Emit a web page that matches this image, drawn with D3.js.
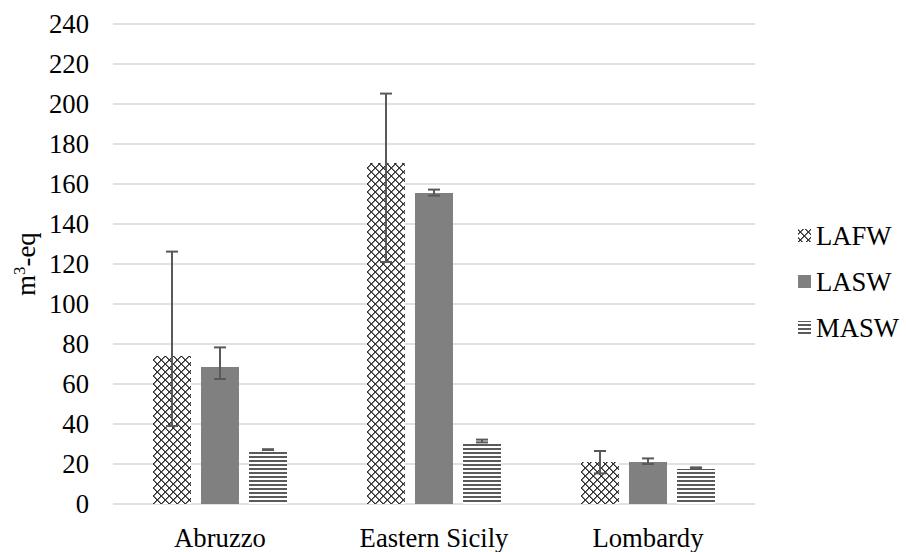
<!DOCTYPE html>
<html><head><meta charset="utf-8">
<script src="https://cdn.jsdelivr.net/npm/d3@7"></script>
</head><body style="margin:0"><svg id="c" width="906" height="552" style="display:block;background:#fff"></svg>
<script>
const categories = ["Abruzzo", "Eastern Sicily", "Lombardy"];
const series = ["LAFW", "LASW", "MASW"];
const LAFW = [74, 170.5, 21.2];
const LASW = [68.7, 155.5, 21.2];
const MASW = [27, 30.8, 17.7];
const LAFW_lo = [39, 121, 15.3];
const LAFW_hi = [126.2, 205.2, 26.5];
const LASW_lo = [62.5, 154.2, 20];
const LASW_hi = [78.3, 157.2, 22.8];
const MASW_lo = [27, 30.8, 17.7];
const MASW_hi = [27.4, 32.2, 18.3];
const yTicks = [0, 20, 40, 60, 80, 100, 120, 140, 160, 180, 200, 220, 240];

const FONT = '"Tinos", "Liberation Serif", "Times New Roman", serif';
const FS = "26.67px";
const vals = {LAFW, LASW, MASW};
const lo = {LAFW: LAFW_lo, LASW: LASW_lo, MASW: MASW_lo};
const hi = {LAFW: LAFW_hi, LASW: LASW_hi, MASW: MASW_hi};

const svg = d3.select("#c");
const L = 113, R = 755, T = 24, B = 504;
const x0 = d3.scaleBand().domain(categories).range([L, R]);
const x1 = d3.scaleBand().domain(series).range([0, x0.bandwidth()]).paddingInner(0.2083).paddingOuter(0.833);
const y = d3.scaleLinear().domain([0, 240]).range([B, T]);
const fills = {LAFW: "url(#pLAFW)", LASW: "#808080", MASW: "url(#pMASW)"};

function txt(x, y, s, anchor) {
  return svg.append("text").attr("x", x).attr("y", y).attr("text-anchor", anchor || "start")
    .attr("font-family", FONT).attr("font-size", FS)
    .style("font-family", FONT).style("font-size", FS).text(s);
}

// ---- texts first, direct children of svg ----
yTicks.forEach(d => txt(89, y(d) + 9, d, "end"));
categories.forEach(d => txt(x0(d) + x0.bandwidth() / 2, 547, d, "middle"));
series.forEach((d, i) => txt(816, 245 + i * 46, d, "start"));

const yt = svg.append("text").attr("transform", `translate(35,${(T + B) / 2}) rotate(-90)`)
  .attr("text-anchor", "middle").attr("font-family", FONT).attr("font-size", FS)
  .style("font-family", FONT).style("font-size", FS);
yt.append("tspan").text("m");
yt.append("tspan").style("font-size", "17px").attr("dy", -10).text("3");
yt.append("tspan").attr("dy", 10).text("-eq");

// legend swatches
svg.append("g").selectAll("rect").data(series).join("rect")
  .attr("x", 798).attr("y", (d, i) => 229 + i * 46).attr("width", 13).attr("height", 13)
  .attr("fill", d => fills[d]).attr("shape-rendering", "crispEdges");

// grid
svg.append("g").selectAll("line").data(yTicks).join("line")
  .attr("x1", L).attr("x2", R).attr("y1", d => y(d)).attr("y2", d => y(d))
  .attr("stroke", "#d9d9d9").attr("stroke-width", 1.3);

// bars
const groups = svg.append("g").selectAll("g").data(categories).join("g")
  .attr("transform", d => `translate(${x0(d)},0)`);
series.forEach(s => {
  groups.append("rect")
    .attr("x", x1(s)).attr("width", x1.bandwidth())
    .attr("y", (d, i) => y(vals[s][i])).attr("height", (d, i) => B - y(vals[s][i]))
    .attr("fill", fills[s]).attr("shape-rendering", "crispEdges");
});
// error bars
series.forEach(s => {
  const cx = x1(s) + x1.bandwidth() / 2;
  groups.append("line").attr("x1", cx).attr("x2", cx)
    .attr("y1", (d, i) => y(lo[s][i])).attr("y2", (d, i) => y(hi[s][i]))
    .attr("stroke", "#595959").attr("stroke-width", 2);
  groups.append("line").attr("x1", cx - 6).attr("x2", cx + 6)
    .attr("y1", (d, i) => y(hi[s][i])).attr("y2", (d, i) => y(hi[s][i]))
    .attr("stroke", "#595959").attr("stroke-width", 2);
  groups.append("line").attr("x1", cx - 6).attr("x2", cx + 6)
    .attr("y1", (d, i) => y(lo[s][i])).attr("y2", (d, i) => y(lo[s][i]))
    .attr("stroke", "#595959").attr("stroke-width", 2);
});

// patterns
const defs = svg.append("defs");
const p1 = defs.append("pattern").attr("id", "pLAFW").attr("patternUnits", "userSpaceOnUse").attr("width", 8).attr("height", 8);
p1.append("rect").attr("width", 8).attr("height", 8).attr("fill", "#fff");
for (let i = 0; i < 8; i++) {
  p1.append("rect").attr("x", (i + 1) % 8).attr("y", i).attr("width", 1).attr("height", 1).attr("fill", "#7a7a7a");
  p1.append("rect").attr("x", (8 - i) % 8).attr("y", i).attr("width", 1).attr("height", 1).attr("fill", "#7a7a7a");
  p1.append("rect").attr("x", i).attr("y", i).attr("width", 1).attr("height", 1).attr("fill", "#333");
  p1.append("rect").attr("x", 7 - i).attr("y", i).attr("width", 1).attr("height", 1).attr("fill", "#333");
}
const p3 = defs.append("pattern").attr("id", "pMASW").attr("patternUnits", "userSpaceOnUse").attr("width", 4).attr("height", 4);
p3.append("rect").attr("width", 4).attr("height", 4).attr("fill", "#fff");
p3.append("rect").attr("y", 0).attr("width", 4).attr("height", 2).attr("fill", "#5a5a5a");
</script></body></html>
